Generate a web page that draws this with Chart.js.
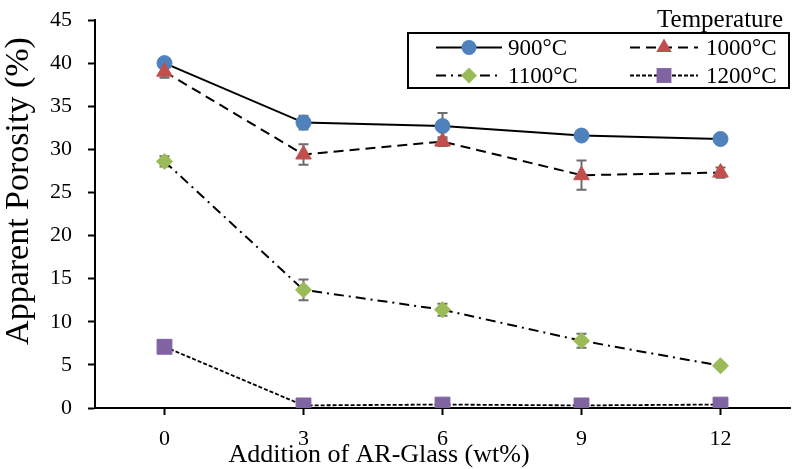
<!DOCTYPE html>
<html>
<head>
<meta charset="utf-8">
<script src="https://cdn.jsdelivr.net/npm/chart.js@4/dist/chart.umd.min.js"></script>
<style>
  html, body { margin: 0; padding: 0; background: #fff; }
  #wrap { width: 792px; height: 469px; }
</style>
</head>
<body>
<div id="wrap"><canvas id="chart" width="792" height="469"></canvas></div>
<script>
// x categories (wt% of AR-Glass)
var categories = ['0', '3', '6', '9', '12'];
var seriesNames = ['900°C', '1000°C', '1100°C', '1200°C'];

// apparent porosity (%) and error (+/-)
var p900 = [40.0, 33.1, 32.7, 31.6, 31.2];
var e900 = [0.3, 0.8, 1.5, 0.3, 0.3];
var p1000 = [39.0, 29.4, 30.9, 27.0, 27.3];
var e1000 = [0.7, 1.2, 0.5, 1.7, 0.6];
var p1100 = [28.6, 13.7, 11.4, 7.8, 4.9];
var e1100 = [0.6, 1.2, 0.7, 0.8, 0.3];
var p1200 = [7.1, 0.3, 0.4, 0.3, 0.4];
var e1200 = [0.2, 0.1, 0.1, 0.1, 0.1];

var yTicks = [0, 5, 10, 15, 20, 25, 30, 35, 40, 45];

var serif = "'Liberation Serif', 'DejaVu Serif', serif";
var colors = ['#4F81BD', '#C0504D', '#9BBB59', '#8064A2'];
var dashes = [[], [10, 6], [10, 5, 2, 5], [4, 2]];
var styles = ['circle', 'triangle', 'rectRot', 'rect'];
var radii = [7.5, 9, 8, 10.5];
var values = [p900, p1000, p1100, p1200];
var errors = [e900, e1000, e1100, e1200];

var datasets = [];
for (var i = 0; i < values.length; i++) {
    datasets.push({
        label: seriesNames[i],
        data: values[i],
        errors: errors[i],
        borderColor: '#000',
        borderWidth: i == 3 ? 1.8 : 2,
        borderDash: dashes[i],
        pointStyle: styles[i],
        pointRadius: radii[i],
        pointHoverRadius: radii[i],
        pointBackgroundColor: colors[i],
        pointBorderColor: colors[i],
        pointBorderWidth: 1,
        tension: 0,
        fill: false,
        order: 4 - i
    });
}

// error bars under the markers
var errorBars = {
    id: 'errorBars',
    beforeDatasetsDraw: function (chart) {
        var ctx = chart.ctx;
        var y = chart.scales.y;
        ctx.save();
        ctx.strokeStyle = '#6d6d6d';
        ctx.lineWidth = 2;
        chart.data.datasets.forEach(function (ds, di) {
            var meta = chart.getDatasetMeta(di);
            meta.data.forEach(function (pt, j) {
                var v = ds.data[j], e = ds.errors[j];
                var top = y.getPixelForValue(v + e);
                var bot = y.getPixelForValue(v - e);
                ctx.beginPath();
                ctx.moveTo(pt.x, top); ctx.lineTo(pt.x, bot);
                ctx.moveTo(pt.x - 5, top); ctx.lineTo(pt.x + 5, top);
                ctx.moveTo(pt.x - 5, bot); ctx.lineTo(pt.x + 5, bot);
                ctx.stroke();
            });
        });
        ctx.restore();
    }
};

function marker(ctx, style, x, y, r, color) {
    ctx.fillStyle = color;
    ctx.beginPath();
    if (style == 'circle') {
        ctx.arc(x, y, r, 0, Math.PI * 2);
    } else if (style == 'triangle') {
        ctx.moveTo(x, y - r);
        ctx.lineTo(x + r * 0.866, y + r * 0.5);
        ctx.lineTo(x - r * 0.866, y + r * 0.5);
        ctx.closePath();
    } else if (style == 'rectRot') {
        ctx.moveTo(x, y - r); ctx.lineTo(x + r, y);
        ctx.lineTo(x, y + r); ctx.lineTo(x - r, y);
        ctx.closePath();
    } else {
        var s = r * Math.SQRT1_2;
        ctx.rect(x - s, y - s, 2 * s, 2 * s);
    }
    ctx.fill();
}

// legend box, axis titles
var extras = {
    id: 'extras',
    afterDraw: function (chart) {
        var ctx = chart.ctx;
        ctx.save();
        ctx.fillStyle = '#000';

        // axis titles
        ctx.font = '26px ' + serif;
        ctx.textAlign = 'center';
        ctx.textBaseline = 'alphabetic';
        ctx.fillText('Addition of AR-Glass (wt%)', 379, 462);
        ctx.save();
        ctx.translate(28, 191);
        ctx.rotate(-Math.PI / 2);
        ctx.font = '34px ' + serif;
        ctx.fillText('Apparent Porosity (%)', 0, 0);
        ctx.restore();

        // legend
        ctx.fillStyle = '#fff';
        ctx.fillRect(408, 33, 381, 55);
        ctx.strokeStyle = '#000';
        ctx.lineWidth = 2;
        ctx.strokeRect(408, 33, 381, 55);

        ctx.fillStyle = '#000';
        ctx.font = '25px ' + serif;
        ctx.textAlign = 'right';
        ctx.fillText('Temperature', 783, 27);

        var cols = [[436, 502, 508], [630, 698, 706]];
        var rows = [47.5, 75.5];
        ctx.font = '23px ' + serif;
        ctx.textAlign = 'left';
        for (var k = 0; k < 4; k++) {
            var c = cols[k % 2], ry = rows[Math.floor(k / 2)];
            ctx.strokeStyle = '#000';
            ctx.lineWidth = 2;
            ctx.setLineDash(dashes[k]);
            ctx.beginPath();
            ctx.moveTo(c[0], ry); ctx.lineTo(c[1], ry);
            ctx.stroke();
            ctx.setLineDash([]);
            marker(ctx, styles[k], (c[0] + c[1]) / 2, ry, radii[k], colors[k]);
            ctx.fillStyle = '#000';
            ctx.fillText(seriesNames[k], c[2], ry + 7.5);
        }
        ctx.restore();
    }
};

var ctx = document.getElementById('chart').getContext('2d');
new Chart(ctx, {
    type: 'line',
    data: { labels: categories, datasets: datasets },
    options: {
        responsive: false,
        animation: false,
        events: [],
        layout: { autoPadding: false, padding: { top: 20, right: 2, left: 0, bottom: 0 } },
        plugins: { legend: { display: false }, tooltip: { enabled: false } },
        scales: {
            x: {
                type: 'category',
                offset: true,
                grid: { display: true, drawOnChartArea: false, offset: false, tickLength: 7, tickColor: '#000', tickWidth: 2 },
                border: { color: '#000', width: 2 },
                ticks: { color: '#000', font: { family: serif, size: 22 }, padding: 11 },
                afterFit: function (s) { s.height = 61; s.paddingLeft = 0; s.paddingRight = 0; }
            },
            y: {
                min: 0,
                max: 45,
                afterBuildTicks: function (s) { s.ticks = yTicks.map(function (v) { return { value: v }; }); },
                grid: { display: true, drawOnChartArea: false, tickLength: 7, tickColor: '#000', tickWidth: 2 },
                border: { color: '#000', width: 2 },
                ticks: { color: '#000', font: { family: serif, size: 22 }, padding: 16 },
                afterFit: function (s) { s.width = 95; s.paddingTop = 0; s.paddingBottom = 0; }
            }
        }
    },
    plugins: [errorBars, extras]
});
</script>
</body>
</html>
